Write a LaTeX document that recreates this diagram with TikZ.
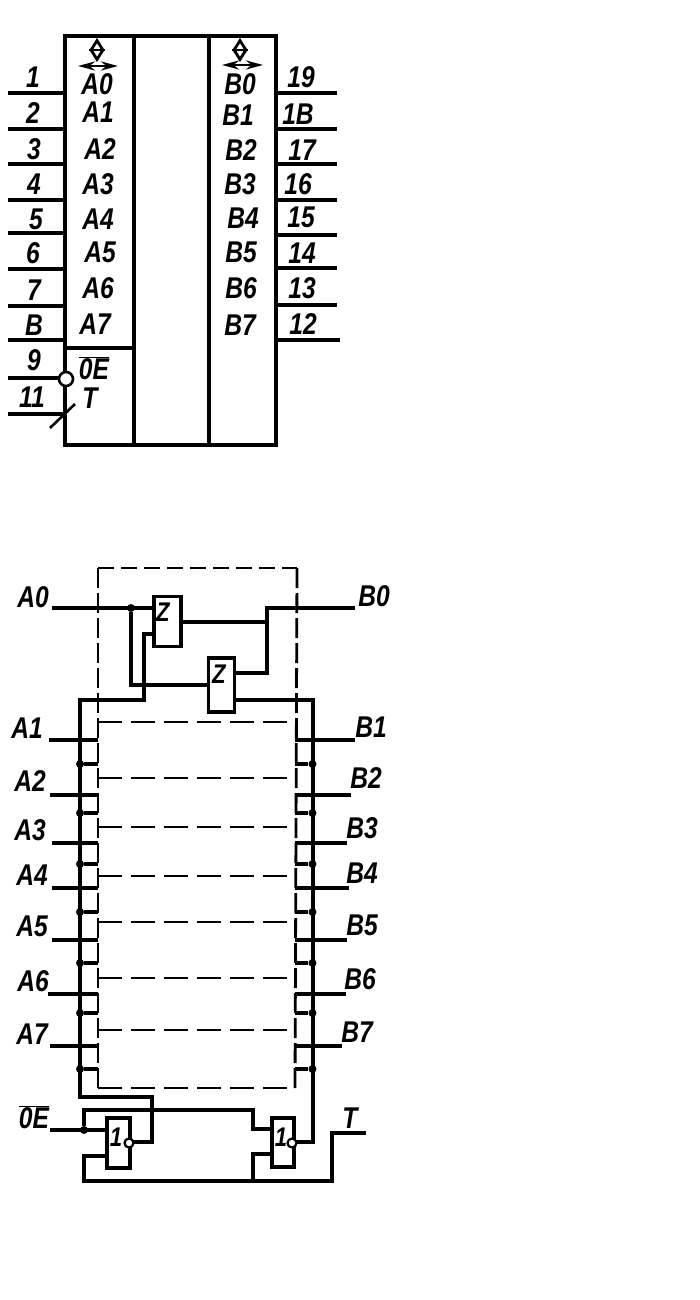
\documentclass[tikz,border=0pt]{standalone}
\usepackage{fontspec}
\setmainfont{Liberation Sans}[FakeStretch=0.82]
\usetikzlibrary{arrows.meta,shapes.geometric}
\tikzset{
  conn/.style={draw,line width=3.1pt},
  framed/.style={draw,line width=3.6pt,line cap=rect},
  dashv/.style={draw,line width=2.8pt,dash pattern=on 20pt off 5pt},
  dashh/.style={draw,line width=2.3pt,dash pattern=on 24pt off 9pt},
  txt/.style={inner sep=0pt,font=\fontsize{30}{30}\selectfont\itshape\bfseries},
  smalltxt/.style={inner sep=0pt,font=\fontsize{27}{27}\selectfont\itshape\bfseries},
  elem/.style={draw,line width=3.2pt,fill=white,inner sep=0pt},
  bubble/.style={circle,draw,fill=white,inner sep=0pt},
  jn/.style={circle,fill=black,inner sep=0pt,minimum size=8pt}
}
\newcommand{\ovl}[1]{$\overline{\mbox{#1}}$}
\begin{document}
\begin{tikzpicture}[x=1pt,y=-1pt]
\useasboundingbox (0,0) rectangle (700,1300);
%%% Upper symbol
\coordinate (tl) at (65,36); \coordinate (tr) at (276,36);
\coordinate (bl) at (65,445); \coordinate (br) at (276,445);
\coordinate (d1t) at (134,36); \coordinate (d1b) at (134,445);
\coordinate (d2t) at (209,36); \coordinate (d2b) at (209,445);
\coordinate (oel) at (65,348); \coordinate (oer) at (134,348);
\path[framed] (tl) -- (tr) -- (br) -- (bl) -- cycle;
\path[framed] (d1t) -- (d1b);
\path[framed] (d2t) -- (d2b);
\path[framed] (oel) -- (oer);
\foreach \y/\n/\t/\lx/\ly in {93/1/1/33/77,129/2/2/33/113,164/3/3/34/149,200/4/4/34/184,233/5/5/36/219,269/6/6/33/253,306/7/7/34/290,340/8/B/34/325,378/9/9/34/360,414/11/11/32/397}{
  \coordinate (lp\n) at (8,\y);
  \coordinate (lq\n) at (65,\y);
  \path[conn] (lp\n) -- (lq\n);
  \node[txt] (ln\n) at (\lx,\ly) {\t};
}
\foreach \y/\n/\t/\lx/\ly/\e in {93/19/19/301/77/337,129/18/1B/298/114/337,164/17/17/302/150/337,200/16/16/298/184/337,235/15/15/301/217/337,268/14/14/302/253/337,305/13/13/302/288/337,340/12/12/303/324/340}{
  \coordinate (rp\n) at (276,\y);
  \coordinate (rq\n) at (\e,\y);
  \path[conn] (rp\n) -- (rq\n);
  \node[txt] (rn\n) at (\lx,\ly) {\t};
}
\foreach \t/\lx/\ly/\n in {A0/97/84/a,A1/98/112/b,A2/100/149/c,A3/98/184/d,A4/98/219/e,A5/100/252/f,A6/98/288/g,A7/95/324/h,B0/240/84/i,B1/238/115/j,B2/241/150/k,B3/240/184/l,B4/243/218/m,B5/241/252/n,B6/241/288/o,B7/240/325/p,T/90/398/q}{
  \node[txt] (sym\n) at (\lx,\ly) {\t};
}
\node[txt] (symoe) at (94,368) {\ovl{0E}};
% direction marks
\node[draw,diamond,line width=2.8pt,inner sep=0pt,minimum width=13pt,minimum height=20pt] (dA) at (97,50) {};
\path[draw,line width=2.4pt] (dA.west) -- (dA.east);
\node[draw,diamond,line width=2.8pt,inner sep=0pt,minimum width=13pt,minimum height=20pt] (dB) at (240,50) {};
\path[draw,line width=2.4pt] (dB.west) -- (dB.east);
\coordinate (aal) at (78,66); \coordinate (aar) at (118,66);
\coordinate (abl) at (222,65); \coordinate (abr) at (263,65);
\path[draw,line width=2.6pt,{Stealth[length=17pt,width=9pt]}-{Stealth[length=17pt,width=9pt]}] (aal) -- (aar);
\path[draw,line width=2.6pt,{Stealth[length=17pt,width=9pt]}-{Stealth[length=17pt,width=9pt]}] (abl) -- (abr);
% pin 9 bubble, pin 11 dynamic mark
\node[bubble,line width=2.6pt,minimum size=14pt] (inv) at (66,379) {};
\coordinate (sa) at (50,428); \coordinate (sb) at (75,404);
\path[draw,line width=2.6pt] (sa) -- (sb);

%%% Lower schematic: dashed outline
\coordinate (o1) at (98,568); \coordinate (o2) at (297,568);
\coordinate (o3) at (295,1088); \coordinate (o4) at (98,1088);
\path[dashv] (o1) -- (o4);
\path[dashv] (o2) -- (o3);
\path[dashh,line width=2.6pt,dash pattern=on 16pt off 7pt] (o1) -- (o2);
\foreach \y in {722,778,827,876,922,978,1030,1088}{
  \coordinate (hl\y) at (98,\y); \coordinate (hr\y) at (295,\y);
  \path[dashh] (hl\y) -- (hr\y);
}
% Z cells
\node[elem,minimum width=27pt,minimum height=50pt] (z1) at (167.5,621.5) {};
\node[elem,minimum width=26pt,minimum height=54pt] (z2) at (221.5,685) {};
\node[smalltxt] (z1t) at (163,612) {Z};
\node[smalltxt] (z2t) at (219,674) {Z};
% A0 / B0 wiring
\coordinate (a0) at (52,608); \coordinate (ja0) at (131,608); \coordinate (z1a) at (154,608);
\coordinate (z2a) at (209,685); \coordinate (c1) at (131,685);
\path[conn] (a0) -- (z1a);
\node[jn] (dj0) at (ja0) {};
\path[conn] (dj0) -- (c1) -- (z2a);
\coordinate (z1b) at (154,634); \coordinate (c2) at (144,634); \coordinate (c3) at (144,700);
\coordinate (bl0) at (80,700); \coordinate (bl1) at (80,1097); \coordinate (bl2) at (152,1097);
\coordinate (bl3) at (152,1142); \coordinate (g1o) at (133,1142);
\path[conn] (z1b) -- (c2) -- (c3) -- (bl0) -- (bl1) -- (bl2) -- (bl3) -- (g1o);
\coordinate (z1o) at (181,622); \coordinate (c4) at (267,622); \coordinate (c5) at (267,608);
\coordinate (b0) at (355,608); \coordinate (c6) at (267,673); \coordinate (z2o) at (235,673);
\path[conn] (z1o) -- (c4);
\path[conn] (z2o) -- (c6) -- (c5) -- (b0);
\coordinate (z2e) at (235,700); \coordinate (br0) at (313,700); \coordinate (br1) at (313,1142); \coordinate (g2o) at (296,1142);
\path[conn] (z2e) -- (br0) -- (br1) -- (g2o);
% stubs and branches
\foreach \y/\s/\e in {740/49/355,795/50/351,843/52/347,888/52/349,940/52/347,994/48/346,1046/50/342}{
  \coordinate (is\y) at (\s,\y); \coordinate (im\y) at (98,\y);
  \coordinate (os\y) at (295,\y); \coordinate (oe\y) at (\e,\y);
  \path[conn] (is\y) -- (im\y);
  \path[conn] (os\y) -- (oe\y);
}
\foreach \y in {764,813,864,912,963,1013,1069}{
  \node[jn] (jl\y) at (80,\y) {};
  \node[jn] (jr\y) at (312.5,\y) {};
  \coordinate (kl\y) at (98,\y); \coordinate (kr\y) at (295,\y);
  \path[conn] (jl\y) -- (kl\y);
  \path[conn] (jr\y) -- (kr\y);
}
% lower labels
\foreach \t/\lx/\ly/\n in {A0/33/597/a,B0/374/596/b,A1/27/728/c,B1/371/727/d,A2/30/781/e,B2/366/778/f,A3/30/830/g,B3/362/828/h,A4/32/875/i,B4/362/873/j,A5/32/926/k,B5/362/925/l,A6/33/981/m,B6/360/979/n,A7/32/1034/o,B7/357/1032/p,T/350/1118/q}{
  \node[txt] (low\n) at (\lx,\ly) {\t};
}
\node[txt] (lowoe) at (34,1117) {\ovl{0E}};
% enable gates
\coordinate (oein) at (50,1130); \coordinate (g1a) at (107,1130);
\coordinate (u1) at (84,1110); \coordinate (u2) at (253,1110); \coordinate (u3) at (253,1129); \coordinate (g2a) at (272,1129);
\coordinate (g1b) at (107,1156); \coordinate (u4) at (84,1156); \coordinate (u5) at (84,1181);
\coordinate (u6) at (332,1181); \coordinate (u7) at (332,1133); \coordinate (tin) at (366,1133);
\coordinate (u8) at (253,1181); \coordinate (u9) at (253,1154); \coordinate (g2b) at (272,1154);
\path[conn] (oein) -- (g1a);
\node[jn] (joe) at (84,1130) {};
\path[conn] (joe) -- (u1) -- (u2) -- (u3) -- (g2a);
\path[conn] (g1b) -- (u4) -- (u5) -- (u6) -- (u7) -- (tin);
\path[conn] (u8) -- (u9) -- (g2b);
\node[elem,minimum width=23pt,minimum height=50pt] (g1) at (118.5,1143) {};
\node[elem,minimum width=22pt,minimum height=49pt] (g2) at (283,1142.5) {};
\node[smalltxt] (g1t) at (116,1137) {1};
\node[smalltxt] (g2t) at (281,1137) {1};
\node[bubble,line width=2.2pt,minimum size=9pt] (gb1) at (129,1143) {};
\node[bubble,line width=2.2pt,minimum size=9pt] (gb2) at (292,1143) {};
\end{tikzpicture}
\end{document}
